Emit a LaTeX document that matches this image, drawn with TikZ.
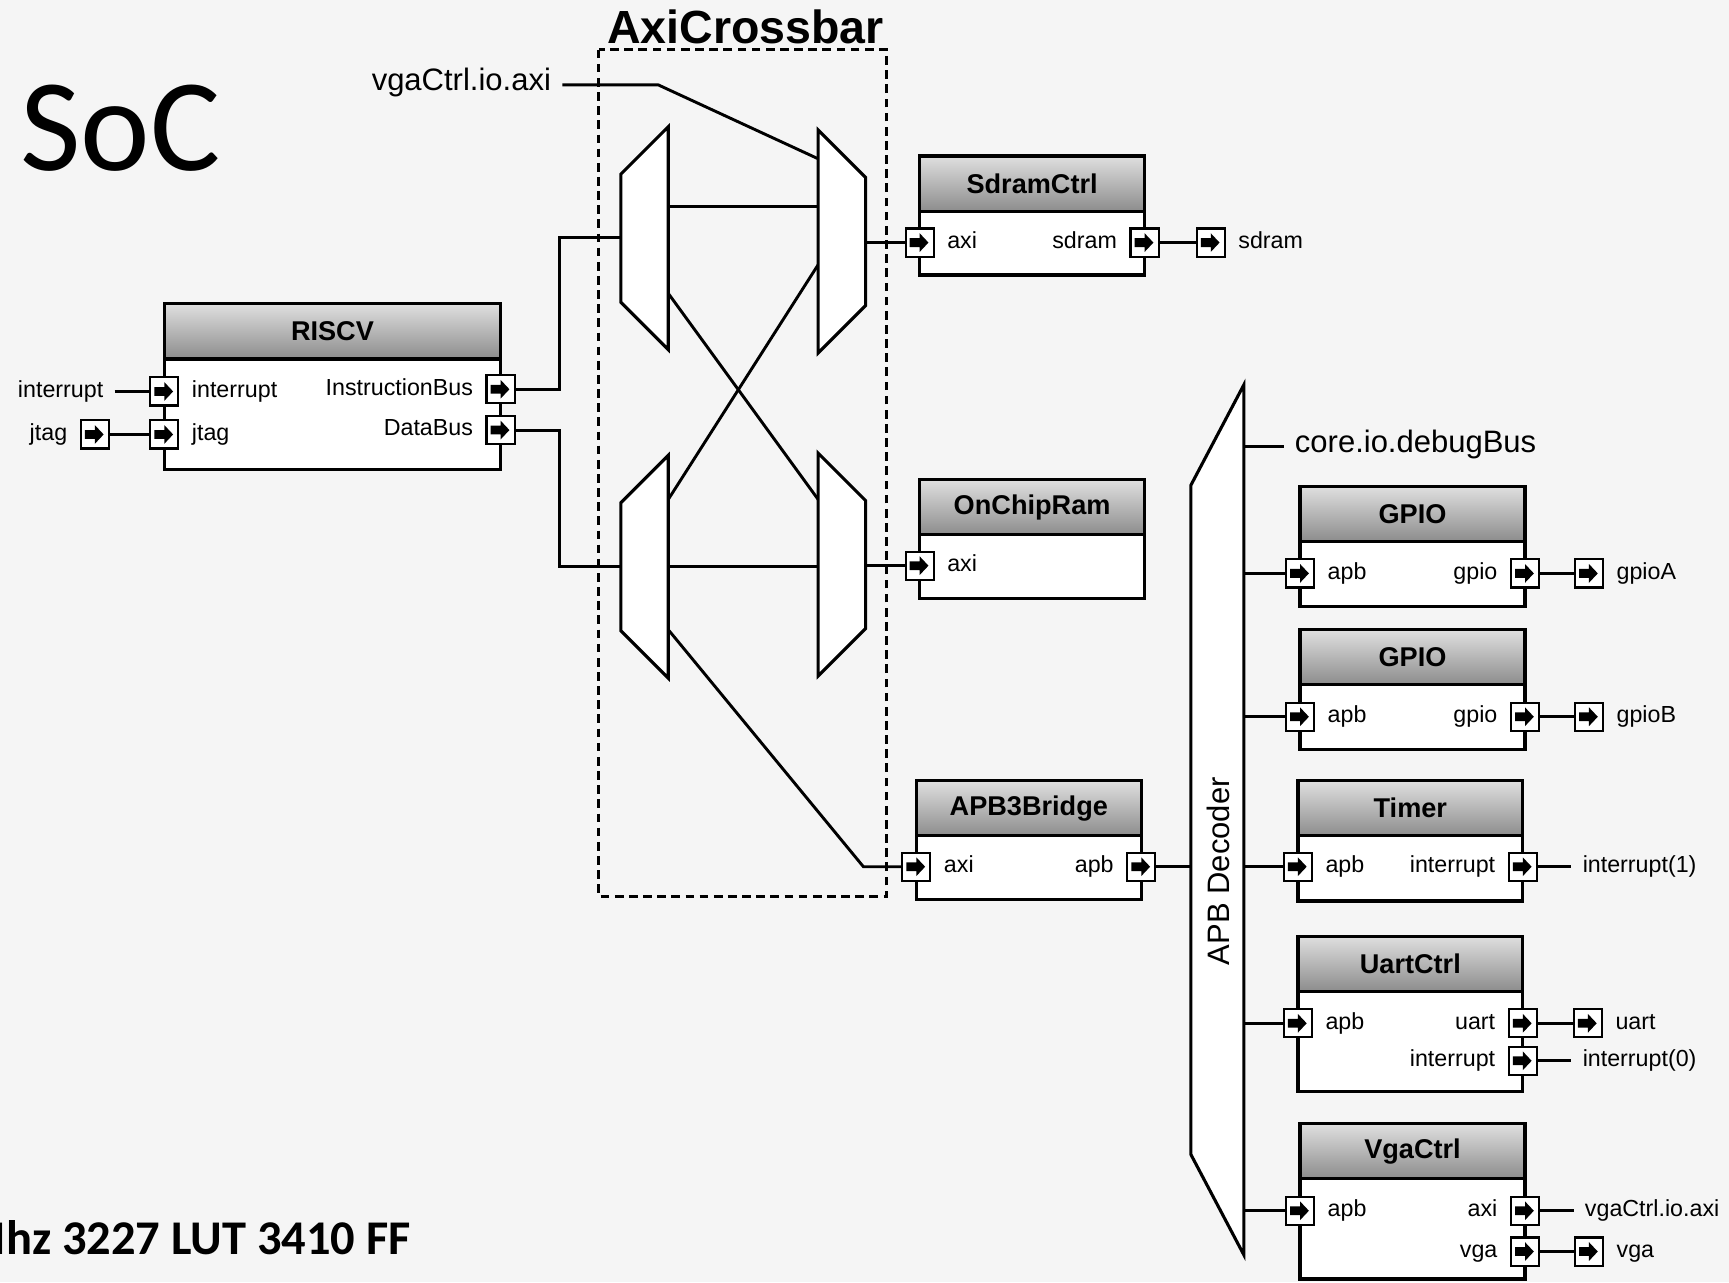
\documentclass[tikz,border=0pt]{standalone}
\usepackage{fontspec}
\setmainfont{Liberation Sans}
\newfontfamily\calfont{Carlito}
\usetikzlibrary{positioning}

\tikzset{
  wire/.style={line width=1.5pt},
  hdr/.style={rectangle,draw,line width=1.7pt,outer sep=0pt,inner sep=0pt,
    top color=gray!25,bottom color=black!45,minimum height=10mm,
    font=\fontsize{14}{16}\selectfont\bfseries},
  bodybox/.style={rectangle,draw,line width=1.7pt,outer sep=0pt,inner sep=0pt,fill=white},
  port/.style={rectangle,draw,line width=1.1pt,fill=white,minimum size=5.1mm,inner sep=0pt,
    path picture={\fill[black,shift={(path picture bounding box.center)}]
      (-9,-4) -- (0,-4) -- (0,-8.5) -- (8,0) -- (0,8.5) -- (0,4) -- (-9,4) -- cycle;}},
  plbl/.style={inner sep=0pt,font=\fontsize{12}{14}\selectfont,text height=1.5ex,text depth=.35ex},
  ext/.style={inner sep=2mm,font=\fontsize{12}{14}\selectfont,text height=1.5ex,text depth=.35ex},
  extbig/.style={inner sep=2mm,font=\fontsize{16}{18}\selectfont,text height=1.5ex,text depth=.35ex},
  muxbox/.style={line width=1.6pt,fill=white,line join=miter}
}

\begin{document}
\begin{tikzpicture}[x=0.2mm,y=-0.2mm]

  \fill[white!96!black] (0,0) rectangle (1568,1163);
  \useasboundingbox (0,0) rectangle (1568,1163);

  % Titles
  \node[inner sep=0pt,anchor=base west,font=\calfont\fontsize{68}{70}\selectfont] (soc) at (18,155) {SoC};
  \node[inner sep=0pt,anchor=base east,font=\calfont\bfseries\fontsize{25}{28}\selectfont] (stats) at (373,1138) {Mhz 3227 LUT 3410 FF};
  \node[inner sep=0pt,anchor=base,font=\bfseries\fontsize{24}{26}\selectfont] (xbarT) at (676,39) {AxiCrossbar};

  % Crossbar frame
  \draw[line width=1.6pt,dash pattern=on 4.5pt off 2.8pt] (543,45) rectangle (804,813);

  % Blocks
  \foreach \b/\x/\y/\w/\h/\t in {
    riscv/301.5/300.5/61/20/RISCV,
    sdram/936/166.5/40.8/11.6/SdramCtrl,
    ocram/936/460/40.8/11.6/OnChipRam,
    apbbr/933/733/40.8/11.6/APB3Bridge,
    gpioa/1281/466/40.8/11.8/GPIO,
    gpiob/1281/596/40.8/11.8/GPIO,
    timer/1279/733/40.8/11.8/Timer,
    uart/1279/874/40.8/18.2/UartCtrl,
    vga/1281/1044/40.8/18.2/VgaCtrl
  }{
    \node[hdr,minimum width=\w mm] (\b) at (\x,\y) {\t};
    \node[bodybox,minimum width=\w mm,minimum height=\h mm,below=0pt of \b] (\b-body) {};
  }

  % Input ports
  \foreach \p/\x/\y/\t in {
    rvInt/149/355/interrupt, rvJtag/149/394/jtag,
    sdAxi/834/220/axi, ocAxi/834/513/axi, brAxi/831/786/axi,
    gaApb/1179/520/apb, gbApb/1179/650/apb, tmApb/1177/786/apb,
    uaApb/1177/928/apb, vgApb/1179/1098/apb,
    xSdram/1098/220/sdram, xGpioA/1441/520/gpioA, xGpioB/1441/650/gpioB,
    xUart/1440/928/uart, xVga/1441/1135/vga
  }{
    \node[port] (\p) at (\x,\y) {};
    \node[plbl,anchor=west] (\p-t) at ([xshift=2.2mm]\p.east) {\t};
  }

  % Output ports
  \foreach \p/\x/\y/\t in {
    rvIB/454/353/InstructionBus, rvDB/454/390/DataBus,
    sdSd/1038/220/sdram, brApb/1035/786/apb,
    gaGp/1383/520/gpio, gbGp/1383/650/gpio, tmIrq/1381/786/interrupt,
    uaUart/1381/928/uart, uaIrq/1381/962/interrupt,
    vgAxi/1383/1098/axi, vgVga/1383/1135/vga,
    xJtag/86/394/jtag
  }{
    \node[port] (\p) at (\x,\y) {};
    \node[plbl,anchor=east] (\p-t) at ([xshift=-2.2mm]\p.west) {\t};
  }

  % Free labels
  \node[ext,anchor=east] (irqIn) at (104,355) {interrupt};
  \node[ext,anchor=west] (irq1) at (1425,786) {interrupt(1)};
  \node[ext,anchor=west] (irq0) at (1425,962) {interrupt(0)};
  \node[ext,anchor=west] (vgaOut) at (1427,1098) {vgaCtrl.io.axi};
  \node[extbig,anchor=east] (vgaIn) at (510,77) {vgaCtrl.io.axi};
  \node[extbig,anchor=west] (dbg) at (1164,405) {core.io.debugBus};

  % Crossbar points
  \foreach \c/\x/\y in {aIn/563/215, aR1/606/187, aR2/606/266, bL0/742/144,
    bL1/742/187, bL2/742/240, bOut/785/220, cIn/563/514, cR1/606/453,
    cR2/606/514, cR3/606/571, dL1/742/453, dL2/742/514, dOut/784/513,
    vgaBend/597/77, brBend/783/786, decR/1128/0, decL/1080/0}
    \coordinate (\c) at (\x,\y);

  % Wires
  \draw[wire] (rvIB.east) -- ++(40,0) |- (aIn);
  \draw[wire] (rvDB.east) -- ++(40,0) |- (cIn);
  \draw[wire] (vgaIn.east) -- (vgaBend) -- (bL0);
  \draw[wire] (aR1) -- (bL1);
  \draw[wire] (cR2) -- (dL2);
  \draw[wire] (aR2) -- (dL1);
  \draw[wire] (cR1) -- (bL2);
  \draw[wire] (cR3) -- (brBend) -- (brAxi);
  \draw[wire] (bOut) -- (sdAxi);
  \draw[wire] (dOut) -- (ocAxi);
  \draw[wire] (irqIn) -- (rvInt);
  \draw[wire] (xJtag) -- (rvJtag);
  \draw[wire] (sdSd) -- (xSdram);
  \draw[wire] (gaGp) -- (xGpioA);
  \draw[wire] (gbGp) -- (xGpioB);
  \draw[wire] (uaUart) -- (xUart);
  \draw[wire] (vgVga) -- (xVga);
  \draw[wire] (tmIrq) -- (irq1);
  \draw[wire] (uaIrq) -- (irq0);
  \draw[wire] (vgAxi) -- (vgaOut);
  \draw[wire] (brApb.east) -- (decL |- brApb);
  \draw[wire] (decR |- dbg) -- (dbg.west);
  \foreach \p in {gaApb,gbApb,tmApb,uaApb,vgApb}
    \draw[wire] (decR |- \p) -- (\p.west);

  % Muxes
  \foreach \m/\wx/\nx/\cy in {muxA/606/563/216, muxB/742/785/219, muxC/606/563/514, muxD/742/785/512}{
    \draw[muxbox] (\wx,\cy-101) -- (\wx,\cy+101) -- (\nx,\cy+58) -- (\nx,\cy-58) -- cycle;
  }

  % APB decoder
  \draw[muxbox] (1128,349) -- (1128,1138) -- (1080,1047) -- (1080,440) -- cycle;
  \node[rotate=90,font=\fontsize{16}{18}\selectfont] (decT) at (1105,790) {APB Decoder};

\end{tikzpicture}
\end{document}
